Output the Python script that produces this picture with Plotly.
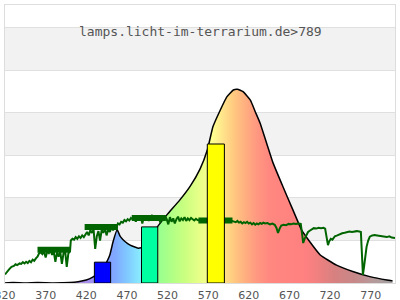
import plotly.graph_objects as go

# Spectrum (relative intensity)
spec_nm = [320, 330, 345, 360, 380, 400, 410, 420, 428, 440, 449, 453, 458, 462, 468, 474, 484,
           492, 500, 508, 520, 535, 548, 560, 569, 576, 585, 593, 601, 606, 613, 622,
           628, 634, 642, 650, 662, 673, 685, 694, 708, 728, 748, 769, 790, 797]
spec_val = [0.0, 0.01, 0.0, 0.01, 0.0, 0.01, 0.03, 0.07, 0.14, 0.3, 0.66, 0.97, 1.25, 1.09, 0.97, 0.89, 0.82,
            0.85, 1.05, 1.33, 1.62, 1.95, 2.28, 2.68, 3.13, 3.68, 4.07, 4.38, 4.54, 4.56, 4.5, 4.3,
            4.03, 3.76, 3.29, 2.82, 2.27, 1.78, 1.25, 1.0, 0.66, 0.42, 0.27, 0.15, 0.07, 0.05]

# Measured (green) curve
green_nm = [320, 322, 325, 328, 331, 333, 335, 338, 340, 342, 344, 346, 348, 350, 352, 354, 356, 358, 360,
            362, 364, 366, 368, 370, 372, 374, 376, 378, 380, 382, 384, 386, 388, 390, 392, 394, 396, 398,
            400, 401, 403, 405, 407, 409, 411, 413, 415, 417, 419, 421, 423, 425, 427, 429, 431, 433, 435,
            437, 439, 441, 443, 445, 447, 449, 451, 453, 455, 457, 459, 461, 463, 465, 467, 469, 471, 473,
            475, 477, 479, 481, 483, 485, 487, 489, 491, 493, 495, 497, 499, 501, 503, 505, 507, 509, 511,
            513, 515, 517, 519, 521, 523, 525, 527, 529, 531, 533, 535, 537, 539, 541, 543, 545, 547, 549,
            551, 553, 555, 557, 560, 565, 570, 580, 590, 598, 601, 604, 606, 608, 610, 612, 614, 616, 618,
            620, 622, 624, 626, 628, 630, 632, 634, 636, 638, 640, 643, 646, 649, 652, 654, 656, 658, 660,
            663, 666, 669, 672, 675, 678, 681, 684, 686, 687, 689, 691, 693, 695, 697, 700, 703, 706, 709,
            712, 714, 716, 717.5, 719, 721, 723, 726, 729, 732, 735, 738, 741, 744, 747, 750, 753, 756, 758,
            759, 760.5, 762, 763.5, 765, 767, 769, 772, 775, 778, 781, 784, 787, 790, 793, 796, 800]
green_val = [0.20, 0.26, 0.32, 0.38, 0.40, 0.44, 0.42, 0.46, 0.45, 0.49, 0.46, 0.50, 0.47, 0.52, 0.49, 0.55,
             0.52, 0.58, 0.62, 0.70, 0.72, 0.68, 0.74, 0.60, 0.74, 0.70, 0.76, 0.66, 0.74, 0.50, 0.72, 0.62,
             0.74, 0.45, 0.70, 0.76, 0.38, 0.70, 0.74, 1.00, 1.04, 1.02, 1.08, 1.04, 1.10, 1.06, 1.12, 1.08,
             1.16, 1.20, 1.12, 1.24, 1.18, 1.26, 0.80, 1.10, 1.22, 1.00, 1.25, 1.18, 1.28, 1.12, 1.26, 1.20,
             1.30, 1.24, 1.34, 1.30, 1.40, 1.38, 1.44, 1.42, 1.48, 1.45, 1.50, 1.47, 1.53, 1.50, 1.56, 1.44,
             1.55, 1.52, 1.58, 1.40, 1.55, 1.50, 1.57, 1.46, 1.54, 1.60, 1.48, 1.56, 1.52, 1.58, 1.42, 1.55,
             1.50, 1.58, 1.50, 1.38, 1.55, 1.44, 1.52, 1.40, 1.50, 1.56, 1.45, 1.52, 1.48, 1.55, 1.46, 1.52,
             1.48, 1.53, 1.50, 1.47, 1.51, 1.48, 1.47, 1.49, 1.46, 1.47, 1.46, 1.47, 1.45, 1.43, 1.46, 1.42,
             1.44, 1.40, 1.43, 1.41, 1.44, 1.40, 1.42, 1.38, 1.41, 1.37, 1.40, 1.38, 1.41, 1.39, 1.42, 1.40,
             1.41, 1.38, 1.40, 1.37, 1.30, 1.18, 1.28, 1.35, 1.37, 1.36, 1.39, 1.38, 1.40, 1.39, 1.40, 1.39,
             1.10, 0.94, 1.05, 1.14, 1.20, 1.23, 1.26, 1.29, 1.28, 1.30, 1.29, 1.30, 1.28, 1.05, 0.89, 0.98,
             1.04, 1.02, 1.10, 1.12, 1.15, 1.17, 1.18, 1.20, 1.21, 1.20, 1.21, 1.22, 1.21, 1.20, 0.80, 0.19,
             0.40, 0.62, 0.85, 1.00, 1.09, 1.12, 1.13, 1.12, 1.11, 1.10, 1.09, 1.08, 1.10, 1.07, 1.06]

# Band averages (thick dark green segments)
band_start = [360, 418, 476, 558]
band_end = [400, 459, 518, 600]
band_val = [0.78, 1.32, 1.53, 1.47]

# LED bars
bar_center = [440, 498, 579.5]
bar_width = [20, 20, 21]
bar_val = [0.49, 1.32, 3.27]
bar_colors = ["#0000ff", "#00ffa0", "#ffff00"]

tick_vals = [320, 370, 420, 470, 520, 570, 620, 670, 720, 770]
title_text = "lamps.licht-im-terrarium.de>789"

X_MIN, X_MAX = 320, 800
Y_MAX = 6.54

grad_start, grad_stop = 400, 800
grad_stops = [(400, "#b090e0"), (420, "#a88ce8"), (440, "#8c9cff"), (455, "#80a8ff"), (470, "#80c8ff"),
              (485, "#88e8ff"), (500, "#90ffc0"), (510, "#98ff90"), (520, "#a8ff88"), (540, "#c8ff80"),
              (560, "#e8ff88"), (575, "#ffff90"), (590, "#ffe08a"), (600, "#ffcc80"), (615, "#ffb080"),
              (630, "#ff9880"), (645, "#ff8880"), (690, "#ff8080"), (705, "#f08080"), (725, "#d88080"),
              (750, "#c88888"), (770, "#b89898"), (790, "#a8a0a0"), (800, "#a0a0a0")]
colorscale = [[(nm - grad_start) / (grad_stop - grad_start), c] for nm, c in grad_stops]

fig = go.Figure()

fig.add_trace(go.Scatter(
    x=spec_nm, y=spec_val, mode="lines",
    line=dict(color="black", width=1.5, shape="spline", smoothing=0.4),
    fill="tozeroy",
    fillgradient=dict(type="horizontal", colorscale=colorscale, start=grad_start, stop=grad_stop),
    hoverinfo="skip", showlegend=False))

fig.add_trace(go.Scatter(
    x=green_nm, y=green_val, mode="lines",
    line=dict(color="#006400", width=2), hoverinfo="skip", showlegend=False))

bx, by = [], []
for s, e, v in zip(band_start, band_end, band_val):
    bx += [s, e, None]
    by += [v, v, None]
fig.add_trace(go.Scatter(x=bx, y=by, mode="lines", line=dict(color="#006400", width=6),
                         hoverinfo="skip", showlegend=False))

fig.add_trace(go.Bar(
    x=bar_center, y=bar_val, width=bar_width,
    marker=dict(color=bar_colors, line=dict(color="black", width=1)),
    xaxis="x2", yaxis="y2", hoverinfo="skip", showlegend=False))

shapes = []
for k in [1, 3, 5]:
    shapes.append(dict(type="rect", xref="paper", yref="y", x0=0, x1=1, y0=k, y1=k + 1,
                       fillcolor="#f2f2f2", line=dict(width=0), layer="below"))

fig.update_layout(
    width=400, height=300,
    margin=dict(l=5, r=5, t=5, b=17, autoexpand=False),
    paper_bgcolor="white", plot_bgcolor="white",
    shapes=shapes,
    xaxis=dict(range=[X_MIN, X_MAX], tickvals=tick_vals, ticks="", showgrid=False,
               showline=True, linecolor="#dddddd", linewidth=1, mirror=True, zeroline=False,
               automargin=False, ticklabeloverflow="allow", ticklabelstandoff=2,
               tickfont=dict(family="DejaVu Sans", size=11, color="#555555")),
    yaxis=dict(range=[0, Y_MAX], dtick=1, tick0=0, showticklabels=False, ticks="",
               showgrid=True, gridcolor="#e0e0e0", gridwidth=1, automargin=False,
               showline=True, linecolor="#dddddd", linewidth=1, mirror=True, zeroline=False),
    xaxis2=dict(range=[X_MIN, X_MAX], overlaying="x", visible=False),
    yaxis2=dict(range=[0, Y_MAX], overlaying="y", visible=False),
    barmode="overlay",
    annotations=[dict(text=title_text, xref="paper", yref="paper", x=0.5, y=0.903,
                      xanchor="center", yanchor="middle", showarrow=False,
                      font=dict(family="DejaVu Sans Mono", size=13, color="#555555"))],
)

fig.write_html("out.html")
